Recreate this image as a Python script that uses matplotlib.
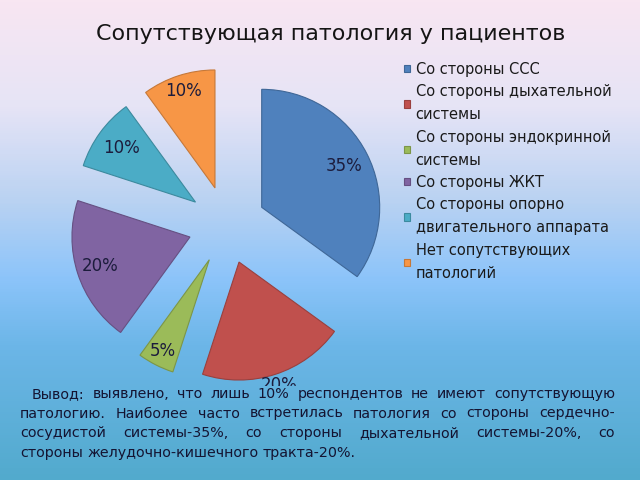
import numpy as np
import matplotlib
matplotlib.use("Agg")
import matplotlib.pyplot as plt
from matplotlib.colors import LinearSegmentedColormap, to_rgb

# --- data ---
title = "Сопутствующая патология у пациентов"
categories = [
    "Со стороны ССС",
    "Со стороны дыхательной\nсистемы",
    "Со стороны эндокринной\nсистемы",
    "Со стороны ЖКТ",
    "Со стороны опорно\nдвигательного аппарата",
    "Нет сопутствующих\nпатологий",
]
shares = [35, 20, 5, 20, 10, 10]
colors = ["#4F81BD", "#C0504D", "#9BBB59", "#8064A2", "#4BACC6", "#F79646"]
conclusion_lines = [
    "Вывод: выявлено, что лишь 10% респондентов не имеют сопутствующую",
    "патологию. Наиболее часто встретилась патология со стороны сердечно-",
    "сосудистой системы-35%, со стороны дыхательной системы-20%, со",
    "стороны желудочно-кишечного тракта-20%.",
]

W, H = 640, 480
fig = plt.figure(figsize=(6.4, 4.8), dpi=100)

# background gradient (top pink -> light blue -> deeper blue)
bg_stops = [(0.0, (248, 230, 242)), (0.22, (230, 228, 246)), (0.42, (185, 210, 242)),
            (0.58, (140, 196, 250)), (0.72, (108, 182, 232)), (1.0, (82, 170, 205))]
cmap = LinearSegmentedColormap.from_list(
    "bg", [(p, tuple(c / 255 for c in rgb)) for p, rgb in bg_stops])
bg = fig.add_axes([0, 0, 1, 1], zorder=-5)
bg.imshow(np.linspace(0, 1, 480)[:, None], cmap=cmap, aspect="auto",
          extent=[0, 1, 0, 1], origin="upper")
bg.axis("off")

# pie axes: pixel box (60..395, 60..386), centre at (227, 225), radius 118 px
cx, cy, rpx = 227, 225, 118
left, right, top, bottom = 60, 395, 60, 386
ax = fig.add_axes([left / W, 1 - bottom / H, (right - left) / W, (bottom - top) / H])
wedges, texts, autotexts = ax.pie(
    shares, colors=colors, startangle=90, counterclock=False,
    explode=[0.33] * len(shares), autopct=lambda p: f"{p:.0f}%",
    textprops=dict(fontsize=12, color="#1c1c3c"),
    wedgeprops=dict(linewidth=0.8))
ax.set_xlim((left - cx) / rpx, (right - cx) / rpx)
ax.set_ylim(-(bottom - cy) / rpx, (cy - top) / rpx)
ax.set_aspect("auto")
ax.patch.set_visible(False)
ax.axis("off")

label_dist = [0.78, 1.1, 0.87, 0.80, 0.78, 0.86]
for w, t, d in zip(wedges, autotexts, label_dist):
    w.set_edgecolor(tuple(c * 0.8 for c in to_rgb(w.get_facecolor())))
    ang = np.deg2rad((w.theta1 + w.theta2) / 2)
    wx, wy = w.center
    t.set_position((wx + d * w.r * np.cos(ang), wy + d * w.r * np.sin(ang)))
    t.set_clip_box(ax.bbox)
    t.set_clip_on(True)

leg = fig.legend(wedges, categories, loc="upper left",
                 bbox_to_anchor=(404 / W, 1 - 62 / H), frameon=False,
                 fontsize=10.5, handlelength=0.4, handleheight=0.4,
                 handletextpad=0.4, labelspacing=0.5, borderpad=0,
                 borderaxespad=0)
for t in leg.get_texts():
    t.set_linespacing(1.67)
    t.set_color("#1a1a1a")

fig.text(331 / W, 1 - 40 / H, title, ha="center", va="baseline",
         fontsize=16, color="#151515")

# justified conclusion paragraph
renderer = fig.canvas.get_renderer()
base_y = [398, 417.5, 437, 456.5]
right_edge = 615
txt_kw = dict(fontsize=10.3, color="#141432", va="baseline")
probe = fig.text(0, 0, "а а", **txt_kw)
probe2 = fig.text(0, 0, "аа", **txt_kw)
space_w = probe.get_window_extent(renderer).width - probe2.get_window_extent(renderer).width
probe.remove()
probe2.remove()
for i, line in enumerate(conclusion_lines):
    x0 = 32 if i == 0 else 20
    words = line.split()
    objs = [fig.text(0, 1 - base_y[i] / H, wd, **txt_kw) for wd in words]
    widths = [o.get_window_extent(renderer).width for o in objs]
    if i == len(conclusion_lines) - 1:
        gap = space_w
    else:
        gap = (right_edge - x0 - sum(widths)) / (len(words) - 1)
    x = x0
    for o, wdt in zip(objs, widths):
        o.set_x(x / W)
        x += wdt + gap

fig.savefig("out.png", dpi=100)
